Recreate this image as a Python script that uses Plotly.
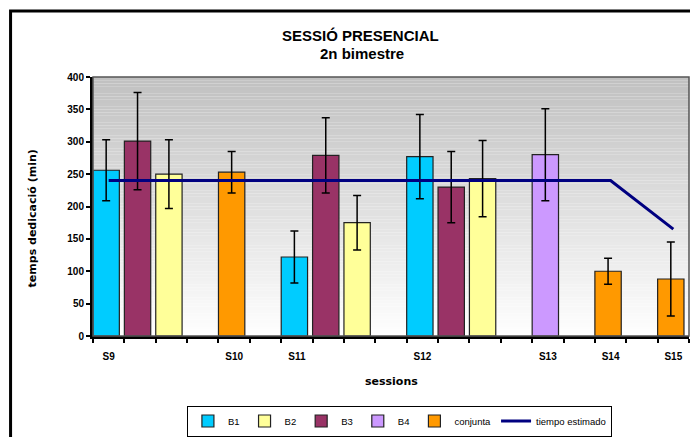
import plotly.graph_objects as go

# ---------------- data ----------------
categories = list(range(1, 20))           # 19 category slots on the x axis
tick_pos = [1, 5, 7, 11, 15, 17, 19]
tick_labels = ["S9", "S10", "S11", "S12", "S13", "S14", "S15"]

b1_x = [1, 7, 11]
b1_y = [256, 122, 277]
b1_err = [47, 40, 65]

b2_x = [3, 9, 13]
b2_y = [250, 175, 243]
b2_err = [53, 42, 59]

b3_x = [2, 8, 12]
b3_y = [301, 279, 230]
b3_err = [75, 58, 55]

b4_x = [15]
b4_y = [280]
b4_err = [71]

conj_x = [5, 17, 19]
conj_y = [253, 100, 88]
conj_err = [32, 20, 57]

est_x = [1, 5, 7, 11, 15, 17, 19]
est_y = [240, 240, 240, 240, 240, 240, 165]

# ---------------- geometry ----------------
# The page body has an 8px margin on every side, so the figure is sized to
# fill exactly the 698x445 window and page coordinates are figure + 8.
OFF = 8
W, H = 698 - 2 * OFF, 445 - 2 * OFF
L_pg, R_pg, T_pg, B_pg = 93, 689.5, 77, 342.7   # plot area in page px
L = L_pg - OFF
T = T_pg - OFF
R = W - (R_pg - OFF)
B = H - (B_pg - OFF)
PW = R_pg - L_pg
PH = B_pg - T_pg


def px_x(p):
    return (p - L_pg) / PW


def px_y(p):
    return (B_pg - p) / PH


FONT = "Liberation Sans"
TITLE_FONT = "DejaVu Sans"

fig = go.Figure()

series = [
    ("B1", b1_x, b1_y, b1_err, "#00ccff"),
    ("B2", b2_x, b2_y, b2_err, "#ffff99"),
    ("B3", b3_x, b3_y, b3_err, "#993366"),
    ("B4", b4_x, b4_y, b4_err, "#cc99ff"),
    ("conjunta", conj_x, conj_y, conj_err, "#ff9900"),
]
for name, xs, ys, es, col in series:
    fig.add_trace(go.Bar(
        name=name, x=xs, y=ys, width=0.84, offset=-0.5,
        marker=dict(color=col, line=dict(color="#222222", width=1.2)),
        error_y=dict(type="data", array=es, visible=True, color="black",
                     thickness=1.5, width=4),
    ))

fig.add_trace(go.Scatter(
    name="tiempo estimado", x=est_x, y=est_y, mode="lines",
    line=dict(color="#000080", width=3),
))

# ---------------- background gradient ----------------
shapes = []
N = 80
for i in range(N):
    f = (i + 0.5) / N  # 0 bottom -> 1 top
    v = round(255 - (255 - 192) * f)
    shapes.append(dict(type="rect", xref="x domain", yref="y domain",
                       x0=0, x1=1, y0=i / N, y1=(i + 1) / N,
                       fillcolor=f"rgb({v},{v},{v})", line=dict(width=0),
                       layer="below"))
# plot area frame (top / right)
shapes.append(dict(type="rect", xref="x domain", yref="y domain",
                   x0=0, x1=1, y0=0, y1=1,
                   line=dict(color="#555555", width=1.5), layer="above"))
# outer chart border
shapes.append(dict(type="rect", xref="paper", yref="paper",
                   x0=px_x(10.5), x1=px_x(720), y0=px_y(460), y1=px_y(9.2),
                   line=dict(color="black", width=3)))

annotations = [
    dict(text="<b>SESSIÓ PRESENCIAL</b>", x=px_x(361), y=px_y(34),
         xref="paper", yref="paper", showarrow=False,
         font=dict(family=FONT, size=15, color="black"),
         xanchor="center", yanchor="middle"),
    dict(text="<b>2n bimestre</b>", x=px_x(362), y=px_y(53),
         xref="paper", yref="paper", showarrow=False,
         font=dict(family=FONT, size=15, color="black"),
         xanchor="center", yanchor="middle"),
    dict(text="<b>sessions</b>", x=px_x(392), y=px_y(389),
         xref="paper", yref="paper", showarrow=False,
         font=dict(family=TITLE_FONT, size=11, color="black"),
         xanchor="center", yanchor="middle"),
    dict(text="<b>temps dedicació (min)</b>", x=px_x(32), y=px_y(222),
         xref="paper", yref="paper", showarrow=False, textangle=-90,
         font=dict(family=TITLE_FONT, size=11, color="black"),
         xanchor="center", yanchor="middle"),
]

fig.update_layout(
    width=W, height=H,
    margin=dict(l=L, r=R, t=T, b=B, pad=0),
    paper_bgcolor="white", plot_bgcolor="white",
    showlegend=True,
    barmode="overlay",
    shapes=shapes,
    annotations=annotations,
    legend=dict(orientation="h", x=px_x(187), y=px_y(414),
                xanchor="left", yanchor="top",
                bordercolor="black", borderwidth=1, bgcolor="white",
                font=dict(family=FONT, size=9.5, color="black"),
                itemwidth=30, tracegroupgap=0),
    xaxis=dict(range=[0.5, 19.5], tickvals=tick_pos, ticktext=tick_labels,
               ticks="outside", ticklen=9, tickcolor="rgba(0,0,0,0)",
               tickfont=dict(family=FONT, size=10, color="black", weight="bold"),
               showgrid=False, zeroline=False,
               showline=True, linecolor="black", linewidth=3,
               minor=dict(tickvals=[c - 0.5 for c in categories] + [19.5],
                          ticks="outside", ticklen=4, tickwidth=2,
                          tickcolor="black", showgrid=False),
               fixedrange=True),
    yaxis=dict(range=[0, 400], dtick=50, ticks="outside", ticklen=4,
               tickwidth=2, tickcolor="black",
               tickfont=dict(family=FONT, size=10, color="black", weight="bold"),
               showgrid=False, zeroline=False,
               showline=True, linecolor="black", linewidth=3,
               fixedrange=True),
)

fig.write_html("out.html")
